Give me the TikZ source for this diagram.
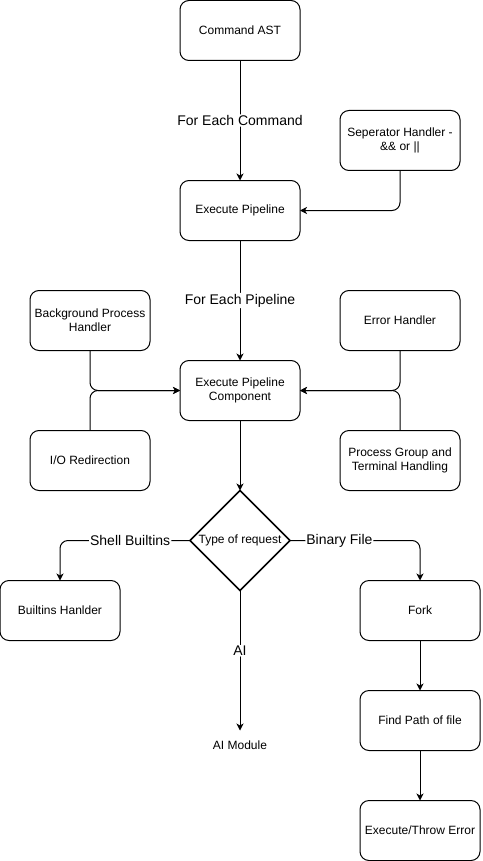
\documentclass[tikz,border=0pt]{standalone}
\usepackage{fontspec}
\setmainfont{Liberation Sans}
\usetikzlibrary{shapes.geometric, arrows.meta, positioning}

\begin{document}
\begin{tikzpicture}[
    node distance=1cm,
    box/.style={draw, rounded corners=9pt, line width=1pt, outer sep=0pt, minimum width=120pt, minimum height=60pt, align=center, font=\fontsize{12}{14}\selectfont},
    decision/.style={draw, diamond, aspect=1, line width=1.6pt, outer sep=0pt, minimum width=100pt, minimum height=100pt, inner sep=0pt, font=\fontsize{12}{14}\selectfont},
    arrow/.style={-{Stealth[length=7pt, width=7pt, inset=2pt]}, line width=1pt, rounded corners=8pt},
    lbl/.style={fill=white, inner sep=1pt, font=\fontsize{14}{16}\selectfont}
]
    \useasboundingbox (0,0) rectangle (482pt,-861pt);

    \node[box] (cmd) at (240pt,-30.5pt) {Command AST};
    \node[box, below=120pt of cmd] (pipe) {Execute Pipeline};
    \node[box, above right=10pt and 40pt of pipe] (sep) {Seperator Handler -\\\&\& or ||};
    \node[box, below=120pt of pipe] (comp) {Execute Pipeline\\Component};
    \node[box, above left=10pt and 30pt of comp] (bg) {Background Process\\Handler};
    \node[box, below left=10pt and 30pt of comp] (io) {I/O Redirection};
    \node[box, above right=10pt and 40pt of comp] (err) {Error Handler};
    \node[box, below right=10pt and 40pt of comp] (pg) {Process Group and\\Terminal Handling};
    \node[decision, below=70pt of comp] (dia) {Type of request};
    \node[box, below left=40pt and 70pt of dia.west] (built) {Builtins Hanlder};
    \node[box, below right=40pt and 70pt of dia.east] (fork) {Fork};
    \node[font=\fontsize{12}{14}\selectfont, minimum height=30pt, outer sep=0pt, below=140pt of dia.south] (ai) {AI Module};
    \node[box, below=50pt of fork] (path) {Find Path of file};
    \node[box, below=50pt of path] (exec) {Execute/Throw Error};

    \draw[arrow] (cmd) -- node[lbl] {For Each Command} (pipe);
    \draw[arrow] (sep.south) |- (pipe.east);
    \draw[arrow] (pipe) -- node[lbl] {For Each Pipeline} (comp);
    \draw[arrow] (bg.south) |- (comp.west);
    \draw[arrow] (io.north) |- (comp.west);
    \draw[arrow] (err.south) |- (comp.east);
    \draw[arrow] (pg.north) |- (comp.east);
    \draw[arrow] (comp) -- (dia);
    \draw[arrow] (dia.west) -| node[lbl, pos=0.23] {Shell Builtins} (built.north);
    \draw[arrow] (dia.east) -| node[lbl, pos=0.19] {Binary File} (fork.north);
    \draw[arrow] (dia.south) -- node[lbl, pos=0.43] {AI} (ai.north);
    \draw[arrow] (fork) -- (path);
    \draw[arrow] (path) -- (exec);
\end{tikzpicture}
\end{document}
